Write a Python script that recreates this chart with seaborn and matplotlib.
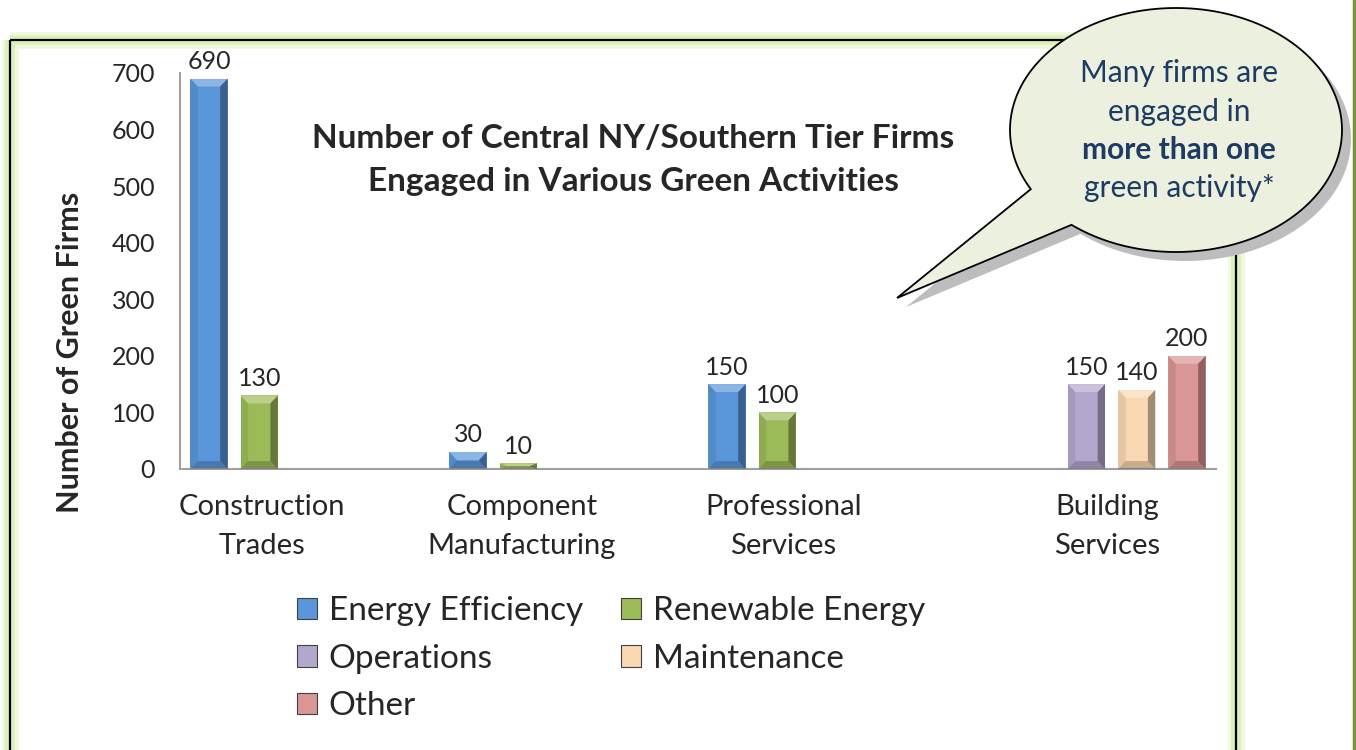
import numpy as np
import pandas as pd
import seaborn as sns
import matplotlib.pyplot as plt
from matplotlib.patches import Rectangle, Polygon, Patch

# data
categories = ["Construction\nTrades", "Component\nManufacturing",
              "Professional\nServices", "Building\nServices"]
activities = ["Energy Efficiency", "Renewable Energy", "Operations", "Maintenance", "Other"]
energy_efficiency = [690, 30, 150, None]
renewable_energy = [130, 10, 100, None]
operations = [None, None, None, 150]
maintenance = [None, None, None, 140]
other = [None, None, None, 200]
y_ticks = [0, 100, 200, 300, 400, 500, 600, 700]

colors = ["#5A96DA", "#9BBB59", "#B4A7CE", "#F9D7B2", "#DA9694"]
label_shift = [-0.185, -0.18, -0.17, 0.08]   # category labels sit off-centre in the original

rows = []
for act, vals in zip(activities, [energy_efficiency, renewable_energy, operations, maintenance, other]):
    for cat, v in zip(categories, vals):
        if v is not None:
            rows.append({"category": cat, "activity": act, "firms": v})
df = pd.DataFrame(rows)

sns.set_style("white")
plt.rcParams["font.family"] = ["Lato", "DejaVu Sans"]

fig = plt.figure(figsize=(13.56, 7.5), dpi=100)
ax = fig.add_axes([180 / 1356, 1 - 469 / 750, 1036 / 1356, 396 / 750])

sns.barplot(data=df, x="category", y="firms", hue="activity", order=categories,
            hue_order=activities, palette=colors, width=0.97, gap=0.26,
            errorbar=None, legend=False, ax=ax, linewidth=0, saturation=1)

# fake bevel on each bar
for p in list(ax.patches):
    x0, y0, w, h = p.get_x(), p.get_y(), p.get_width(), p.get_height()
    x1, y1 = x0 + w, y0 + h
    b = w * 0.2
    bv = min(14, h / 2)
    ax.add_patch(Polygon([(x0, y1), (x1, y1), (x1 - b, y1 - bv), (x0 + b, y1 - bv)],
                         closed=True, fc="white", alpha=0.3, lw=0, zorder=3))
    ax.add_patch(Polygon([(x1, y1), (x1, y0), (x1 - b, y0 + bv), (x1 - b, y1 - bv)],
                         closed=True, fc="black", alpha=0.35, lw=0, zorder=3))
    ax.add_patch(Polygon([(x0, y0), (x1, y0), (x1 - b, y0 + bv), (x0 + b, y0 + bv)],
                         closed=True, fc="black", alpha=0.2, lw=0, zorder=3))
    ax.add_patch(Polygon([(x0, y1), (x0, y0), (x0 + b, y0 + bv), (x0 + b, y1 - bv)],
                         closed=True, fc="black", alpha=0.08, lw=0, zorder=3))

for c in ax.containers:
    ax.bar_label(c, fmt="%d", padding=4, fontsize=18)

ax.set_xlim(-0.5, 3.5)
ax.set_ylim(0, 700)
ax.set_yticks(y_ticks)
ax.set_xticks(np.arange(len(categories)) + np.array(label_shift))
ax.set_xticklabels(categories, fontsize=21, linespacing=1.62)
ax.tick_params(axis="y", labelsize=18, length=0, pad=18)
ax.tick_params(axis="x", length=0, pad=18)
ax.set_xlabel("")
ax.set_ylabel("")
for s in ["top", "right"]:
    ax.spines[s].set_visible(False)
for s in ["left", "bottom"]:
    ax.spines[s].set_color("#A0A0A0")
    ax.spines[s].set_linewidth(1.5)
ax.patch.set_alpha(0)

fig.text(70 / 1356, 1 - 352 / 750, "Number of Green Firms", rotation=90,
         ha="center", va="center", fontsize=22, fontweight="bold")
fig.text(633 / 1356, 1 - 160 / 750,
         "Number of Central NY/Southern Tier Firms\nEngaged in Various Green Activities",
         ha="center", va="center", fontsize=24, fontweight="bold", linespacing=1.6)

# legend, row-wise like the original
handles = [Patch(facecolor=c, edgecolor="#404040", linewidth=0.8) for c in colors]
order = [0, 2, 4, 1, 3]
fig.legend([handles[i] for i in order], [activities[i] for i in order],
           loc="upper left", bbox_to_anchor=(267 / 1356, 1 - 566 / 750), ncol=2,
           frameon=False, fontsize=24, handlelength=0.6, handleheight=0.6,
           handletextpad=0.35, columnspacing=1.15, labelspacing=0.53)

# overlay in pixel coordinates for the frame and the callout
ov = fig.add_axes([0, 0, 1, 1], zorder=5)
ov.set_xlim(0, 1356)
ov.set_ylim(750, 0)
ov.axis("off")
ov.patch.set_alpha(0)

for lw, col in [(12, "#EEF8DD"), (7, "#DDF0BA")]:
    ov.add_patch(Rectangle((10, 40), 1226, 714, fill=False, ec=col, lw=lw))
ov.add_patch(Rectangle((10, 40), 1226, 714, fill=False, ec="black", lw=1.6))
ov.plot([1354, 1354], [0, 750], color="#77933C", lw=2.5)

cx, cy, a, b = 1176, 130, 166, 122
t = np.radians(np.linspace(151, 489, 200))
pts = np.column_stack([cx + a * np.cos(t), cy + b * np.sin(t)])
pts = np.vstack([pts, [[897, 298]]])
ov.add_patch(Polygon(pts + [9, 9], closed=True, fc="#BDBDBD", lw=0))
ov.add_patch(Polygon(pts, closed=True, fc="#EBF1DE", ec="black", lw=1.3))

txt_col = "#1F3B63"
for yy, s, wt in [(73, "Many firms are", "normal"), (112, "engaged in", "normal"),
                  (150, "more than one", "bold"), (188, "green activity*", "normal")]:
    ov.text(1179, yy, s, ha="center", va="center", fontsize=21.5, color=txt_col, fontweight=wt)

fig.savefig("out.png", dpi=100, facecolor="white")
